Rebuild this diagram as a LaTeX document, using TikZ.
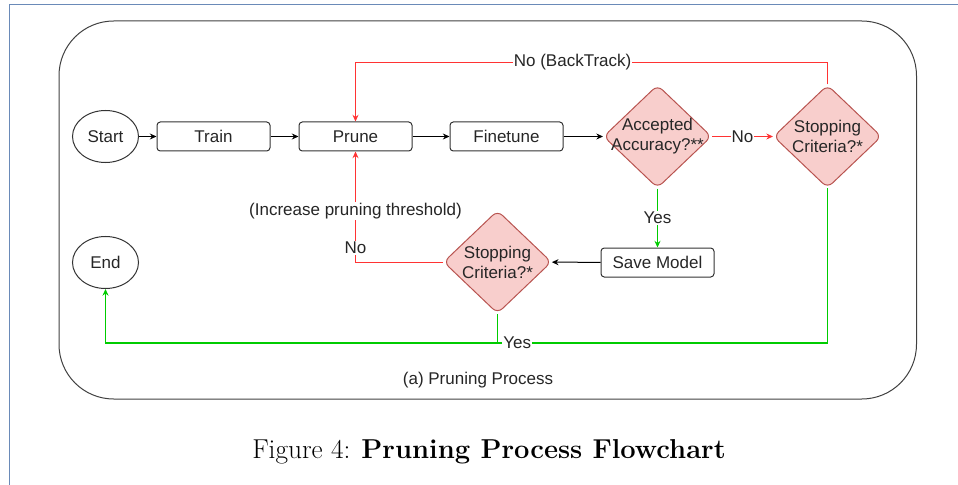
\documentclass[tikz,border=0pt]{standalone}
\usepackage{fontspec}
\newfontfamily\drawfont{Liberation Sans}
\usetikzlibrary{shapes.geometric,arrows.meta}

\definecolor{nored}{HTML}{FF3333}
\definecolor{yesgreen}{HTML}{00CC00}
\definecolor{decfill}{HTML}{F8CECC}
\definecolor{decdraw}{HTML}{B85450}
\definecolor{pageframe}{HTML}{6A8AB8}

\tikzset{
    txt/.style={font=\drawfont\fontsize{12.75}{15}\selectfont, text=black!85},
    stepbox/.style={txt, draw=black!80, line width=0.75pt, rounded corners=2.5pt,
        minimum width=84.75pt, minimum height=21.75pt, inner sep=0pt},
    term/.style={txt, ellipse, draw=black!80, line width=0.75pt,
        minimum width=49.5pt, minimum height=39pt, inner sep=0pt},
    decision/.style={diamond, draw=decdraw, fill=decfill, line width=0.75pt,
        rounded corners=5pt, minimum width=81pt, minimum height=77.25pt, inner sep=0pt},
    flow/.style={-{Stealth[length=5pt,width=4.5pt]}, line width=0.75pt},
    nolink/.style={flow, draw=nored},
    yeslink/.style={flow, draw=yesgreen, line width=1pt},
    lbl/.style={txt, fill=white, inner sep=0.8pt}
}

\begin{document}
\begin{tikzpicture}[x=0.75pt,y=-0.75pt]
    \useasboundingbox (0,0) rectangle (958,485);

    % page frame and container
    \draw [pageframe, line width=1.1pt](9.5,485) -- (9.5,4.5) -- (958,4.5);
    \draw [black!75, line width=0.75pt, rounded corners=41pt](59,21) rectangle (916.5,399);

    % steps
    \node [term] (start) at (105.5,136.5) {Start};
    \node [stepbox] (train) at (213.5,136.5) {Train};
    \node [stepbox] (prune) at (355.5,136.5) {Prune};
    \node [stepbox] (finetune) at (506.5,136.5) {Finetune};
    \node [decision, label={[txt,align=center]center:Accepted\\Accuracy?**}] (accept) at (657.5,136.5) {};
    \node [decision, label={[txt,align=center]center:Stopping\\Criteria?*}] (stopA) at (827.5,136.5) {};
    \node [stepbox] (save) at (657.5,262.5) {Save Model};
    \node [decision, label={[txt,align=center]center:Stopping\\Criteria?*}] (stopB) at (497.5,262) {};
    \node [term] (end) at (105.5,262.5) {End};

    % main line
    \draw [flow](start) -- (train);
    \draw [flow](train) -- (prune);
    \draw [flow](prune) -- (finetune);
    \draw [flow](finetune) -- (accept);
    \draw [nolink](accept) -- node[lbl]{No} (stopA);
    \draw [yeslink](accept) -- node[lbl]{Yes} (save);
    \draw [flow](save) -- (stopB);

    % loops back
    \draw [nolink](stopA.north) -- ++(0,-22) -| node[lbl,pos=0.27]{No (BackTrack)} (prune.north);
    \draw [nolink](stopB.west) -| node[lbl,pos=0.565]{No} node[lbl,pos=0.73]{(Increase pruning threshold)} (prune.south);

    % to the end
    \path (stopB.south) ++(0,29) coordinate (yesjoin);
    \draw [yeslink](stopB.south) -- (yesjoin) -| (end.south);
    \draw [draw=yesgreen, line width=1pt](stopA.south) |- node[lbl,pos=0.97]{Yes} (yesjoin);

    \node [txt] (sub) at (478,380) {(a) Pruning Process};
    \node [font=\fontsize{20.5}{24}\selectfont] (caption) at (489,452) {Figure 4: \textbf{Pruning Process Flowchart}};
\end{tikzpicture}
\end{document}
